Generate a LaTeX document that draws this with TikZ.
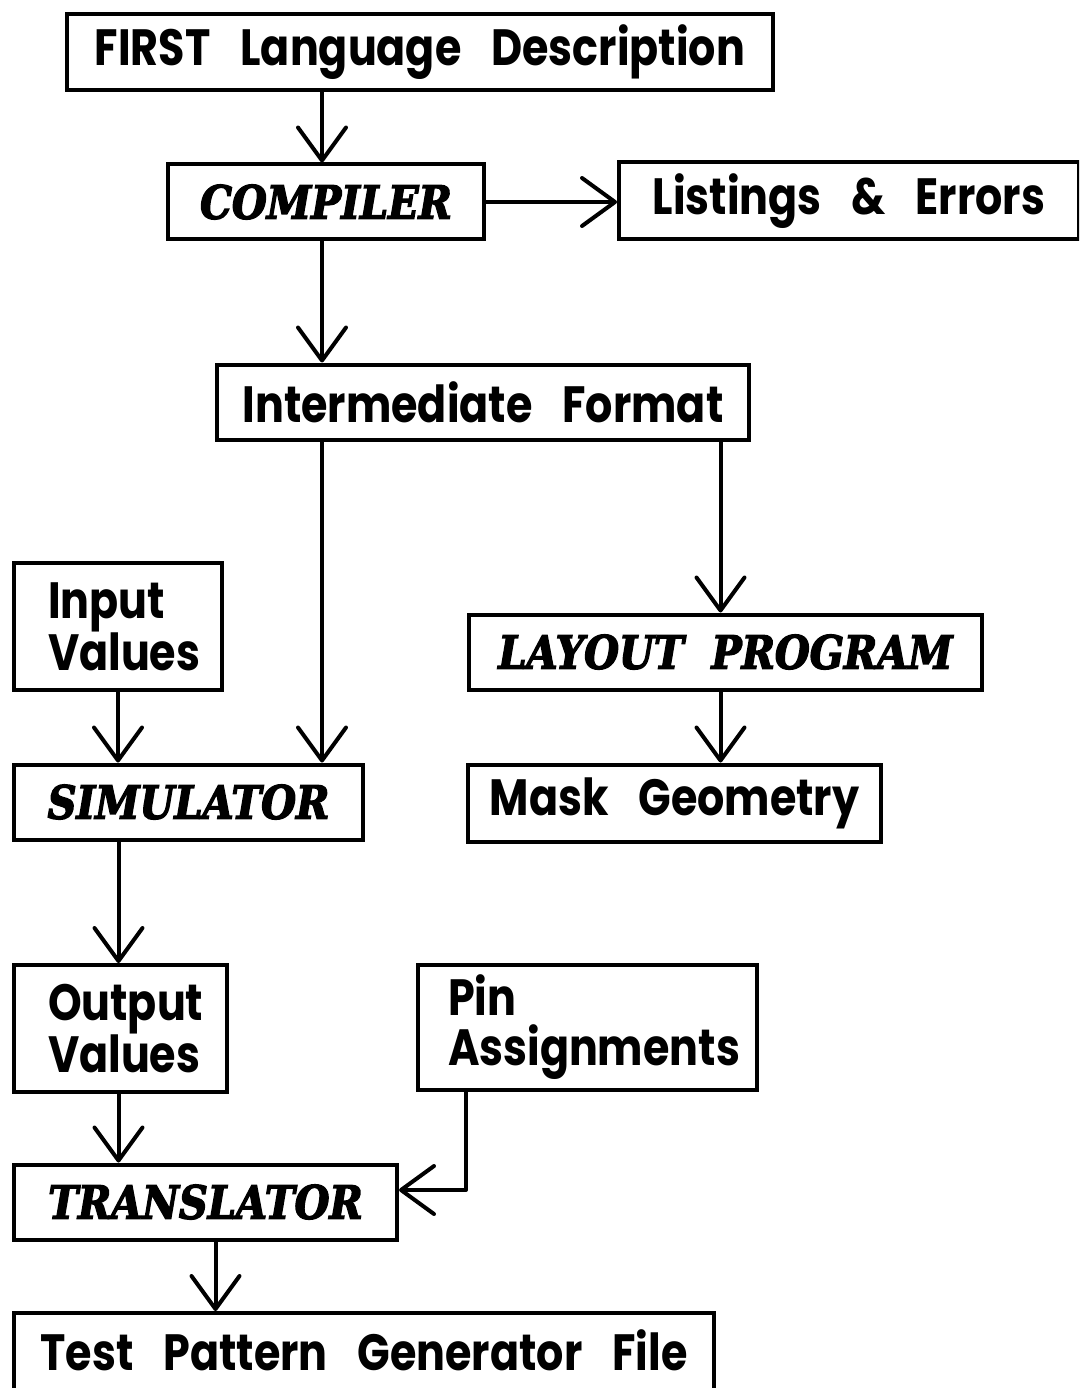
\documentclass[tikz,border=0pt]{standalone}
\usepackage{fontspec}
\usetikzlibrary{arrows.meta}
\newfontfamily\plotsans{Poppins}[FakeStretch=0.84, WordSpace=3.3]
\newfontfamily\plotital{DejaVu Serif}[FakeStretch=0.87, FakeBold=3, WordSpace=2.0]
\tikzset{
  box/.style={draw, line width=4pt, rectangle, inner sep=0pt,
    font=\plotsans\bfseries\fontsize{51}{50}\selectfont},
  prog/.style={box, font=\plotital\bfseries\itshape\fontsize{46}{46}\selectfont},
  twoline/.style={box, align=left},
  plain/.style={inner sep=0pt, font=\plotsans\bfseries\fontsize{51}{50}\selectfont},
  flow/.style={line width=4pt, line cap=round, line join=round,
    -{Straight Barb[length=33pt, width=48pt, line width=4pt, round]}},
}
\begin{document}
\begin{tikzpicture}[x=1pt, y=-1pt]
\useasboundingbox (0,0) rectangle (1079,1388);
\clip (0,0) rectangle (1079,1388);
% boxes, placed by centre with their outer sizes
\node[box, minimum width=706pt, minimum height=76pt] (first) at (420,52) {FIRST Language Description};
\node[prog, minimum width=316pt, minimum height=75pt] (comp) at (326,202) {COMPILER};
\node[box, minimum width=460pt, minimum height=77pt] (list) at (849,201) {Listings \& Errors};
\node[box, minimum width=532pt, minimum height=75pt] (inter) at (483,402) {Intermediate Format};
\node[twoline, minimum width=208pt, minimum height=127pt, text width=140pt] (input) at (118,626.5) {Input\\Values};
\node[prog, minimum width=513pt, minimum height=75pt] (layout) at (725.5,652) {LAYOUT PROGRAM};
\node[prog, minimum width=349pt, minimum height=75pt] (sim) at (188.5,802) {SIMULATOR};
\node[box, minimum width=413pt, minimum height=77pt] (mask) at (674.5,803) {Mask Geometry};
\node[twoline, minimum width=213pt, minimum height=127pt, text width=145pt] (output) at (120.5,1028.5) {Output\\Values};
\node[twoline, minimum width=339pt, minimum height=125pt, text width=279pt] (pin) at (587.5,1027.5) {Pin\\Assignments};
\node[prog, minimum width=383pt, minimum height=75pt] (trans) at (205.5,1202) {TRANSLATOR};
% the last box runs off the lower edge of the sheet
\node[box, minimum width=700pt, minimum height=84pt] (test) at (364,1355) {};
\node[plain, anchor=base] (testtext) at (364,1370) {Test Pattern Generator File};
% data flow
\draw[flow] ([xshift=-4pt]comp.north |- first.south) -- ([xshift=-4pt]comp.north);
\draw[flow] (comp.east) -- (list.west |- comp.east);
\draw[flow] ([xshift=-4pt]comp.south) -- ([xshift=-4pt]comp.south |- inter.north);
\draw[flow] ([xshift=-43pt]sim.north east |- inter.south) -- ([xshift=-43pt]sim.north east);
\draw[flow] ([xshift=-5pt]layout.north |- inter.south) -- ([xshift=-5pt]layout.north);
\draw[flow] (input.south) -- (input.south |- sim.north);
\draw[flow] ([xshift=-5pt]layout.south) -- ([xshift=-5pt]layout.south |- mask.north);
\draw[flow] ([xshift=-2pt]output.north |- sim.south) -- ([xshift=-2pt]output.north);
\draw[flow] ([xshift=-2pt]output.south) -- ([xshift=-2pt]output.south |- trans.north);
\draw[flow] ([xshift=50pt]pin.south west) |- ([yshift=12pt]trans.east);
\draw[flow] ([xshift=10pt]trans.south) -- ([xshift=10pt]trans.south |- test.north);
\end{tikzpicture}
\end{document}
